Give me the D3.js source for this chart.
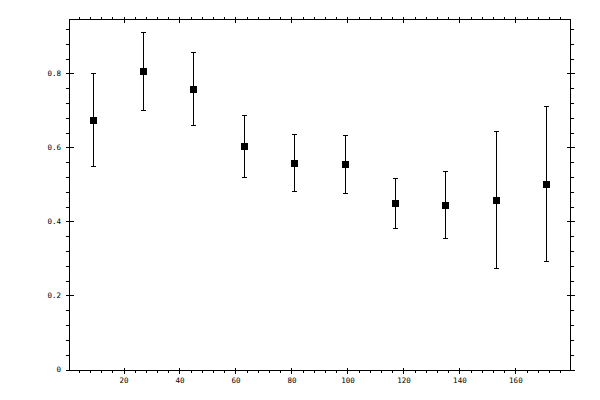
<!DOCTYPE html>
<html><head><meta charset="utf-8">
<script src="https://cdn.jsdelivr.net/npm/d3@7/dist/d3.min.js"></script>
<style>
html,body{margin:0;padding:0;background:#fff;}
svg{display:block;}
.tick text{font-family:"DejaVu Sans Mono",monospace;font-size:7.5px;fill:#000;}
</style></head>
<body>
<script>
const xs = [9, 27, 45, 63, 81, 99, 117, 135, 153, 171];
const ys = [0.675, 0.807, 0.759, 0.605, 0.559, 0.556, 0.451, 0.445, 0.459, 0.502];
const yHigh = [0.802, 0.913, 0.859, 0.688, 0.637, 0.634, 0.518, 0.537, 0.645, 0.711];
const yLow = [0.549, 0.702, 0.661, 0.521, 0.483, 0.478, 0.383, 0.356, 0.275, 0.294];
const xMajor = [20, 40, 60, 80, 100, 120, 140, 160];
const xMinor = d3.range(4, 180, 4).filter(v => v % 20 !== 0);
const yMajor = [0, 0.2, 0.4, 0.6, 0.8];
const yMinor = d3.range(1, 24).map(i => +(i * 0.04).toFixed(2)).filter(v => Math.abs(v / 0.2 - Math.round(v / 0.2)) > 1e-6);

const W = 600, H = 400;
const L = 69.5, R = 570.5, T = 19.5, B = 370.5;
const svg = d3.select("body").append("svg").attr("width", W).attr("height", H);

const x = d3.scaleLinear().domain([0.7, 179.7]).range([L, R]);
const y = d3.scaleLinear().domain([-0.0027, 0.9459]).range([B, T]);

function fmtY(v) { return v === 0 ? "0" : d3.format(".1f")(v); }

function addAxis(axisFn, scale, vals, size, pos, fmt, transformAttr) {
  const g = svg.append("g").attr("transform", transformAttr);
  const ax = axisFn(scale).tickValues(vals).tickSize(size).tickPadding(fmt ? 4 : 0).tickFormat(fmt || (() => ""));
  g.call(ax);
  g.select(".domain").remove();
  g.selectAll(".tick line").attr("stroke", "#000").attr("stroke-width", 1).attr("shape-rendering", "crispEdges");
  return g;
}

// Left axis
const gl = addAxis(d3.axisLeft, y, yMajor, 4, L, fmtY, `translate(${L},0)`);
gl.selectAll(".tick text").attr("x", -8.5).attr("dy", "0.33em");
addAxis(d3.axisRight, y, yMajor, 4, L, null, `translate(${L},0)`);
addAxis(d3.axisLeft, y, yMinor, 3.5, L, null, `translate(${L},0)`);
// Right axis
addAxis(d3.axisRight, y, yMajor, 4, R, null, `translate(${R},0)`);
addAxis(d3.axisLeft, y, yMajor, 4, R, null, `translate(${R},0)`);
addAxis(d3.axisRight, y, yMinor, 3.5, R, null, `translate(${R},0)`);
// Bottom axis
const gb = addAxis(d3.axisBottom, x, xMajor, 3, B, d => String(d), `translate(0,${B})`);
gb.selectAll(".tick text").attr("y", 7).attr("dy", "0.71em");
addAxis(d3.axisTop, x, xMajor, 3, B, null, `translate(0,${B})`);
addAxis(d3.axisBottom, x, xMinor, 2.5, B, null, `translate(0,${B})`);
// Top axis
addAxis(d3.axisTop, x, xMajor, 3, T, null, `translate(0,${T})`);
addAxis(d3.axisBottom, x, xMajor, 3, T, null, `translate(0,${T})`);
addAxis(d3.axisTop, x, xMinor, 3, T, null, `translate(0,${T})`);

// Frame
svg.append("rect").attr("x", L).attr("y", T).attr("width", R - L).attr("height", B - T)
  .attr("fill", "none").attr("stroke", "#000").attr("stroke-width", 1).attr("shape-rendering", "crispEdges");

const data = xs.map((d, i) => ({ x: d, y: ys[i], hi: yHigh[i], lo: yLow[i] }));
const px = d => Math.round(x(d)) + 0.5;
const g = svg.append("g");
g.selectAll("line.err").data(data).join("line").attr("class", "err")
  .attr("x1", d => px(d.x)).attr("x2", d => px(d.x))
  .attr("y1", d => y(d.hi)).attr("y2", d => y(d.lo))
  .attr("stroke", "#000").attr("stroke-width", 1).attr("shape-rendering", "crispEdges");
g.selectAll("line.capH").data(data).join("line").attr("class", "capH")
  .attr("x1", d => px(d.x) - 2.5).attr("x2", d => px(d.x) + 2.5)
  .attr("y1", d => Math.round(y(d.hi)) + 0.5).attr("y2", d => Math.round(y(d.hi)) + 0.5)
  .attr("stroke", "#000").attr("stroke-width", 1).attr("shape-rendering", "crispEdges");
g.selectAll("line.capL").data(data).join("line").attr("class", "capL")
  .attr("x1", d => px(d.x) - 2.5).attr("x2", d => px(d.x) + 2.5)
  .attr("y1", d => Math.round(y(d.lo)) + 0.5).attr("y2", d => Math.round(y(d.lo)) + 0.5)
  .attr("stroke", "#000").attr("stroke-width", 1).attr("shape-rendering", "crispEdges");
g.selectAll("rect.pt").data(data).join("rect").attr("class", "pt")
  .attr("x", d => px(d.x) - 3.5).attr("y", d => Math.round(y(d.y)) + 0.5 - 3.5)
  .attr("width", 7).attr("height", 7).attr("fill", "#000");
</script>
</body></html>
